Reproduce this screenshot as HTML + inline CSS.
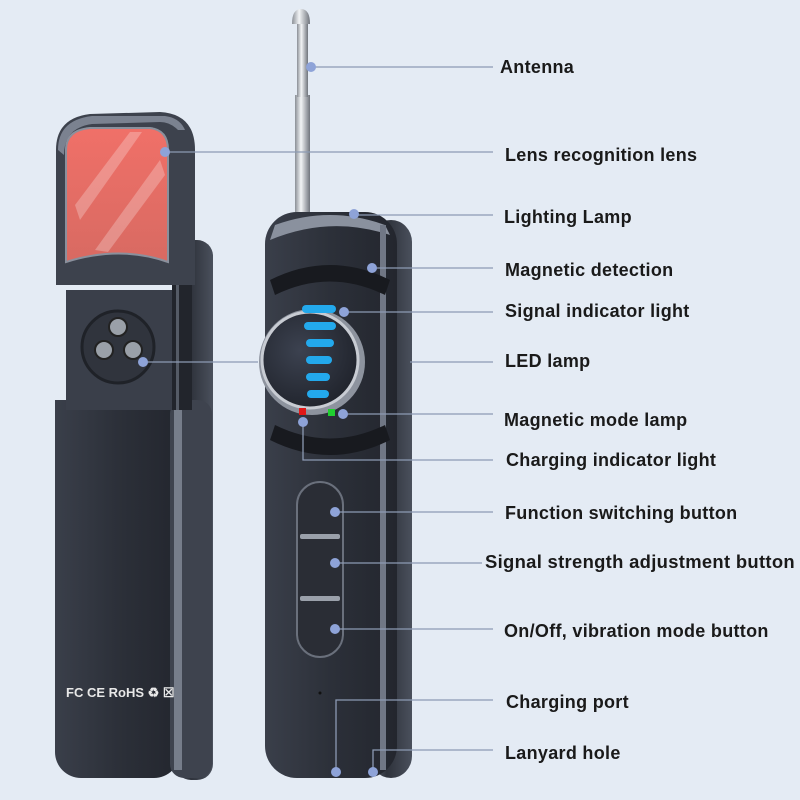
<!DOCTYPE html>
<html><head><meta charset="utf-8"><style>
html,body{margin:0;padding:0;background:#e4ebf4;}
svg{display:block}
text{font-family:"Liberation Sans",sans-serif;font-weight:bold;font-size:18px;letter-spacing:0.3px;fill:#1a1a1a}
</style></head><body>
<svg width="800" height="800" viewBox="0 0 800 800" xmlns="http://www.w3.org/2000/svg">
<defs>
<linearGradient id="body" x1="0" x2="1" y1="0" y2="0">
<stop offset="0" stop-color="#3a3f4a"/><stop offset="0.5" stop-color="#2c3039"/><stop offset="1" stop-color="#23262e"/></linearGradient>
<linearGradient id="side" x1="0" x2="1"><stop offset="0" stop-color="#5d6472"/><stop offset="0.4" stop-color="#2e323b"/><stop offset="1" stop-color="#4a505c"/></linearGradient>
<linearGradient id="ant" x1="0" x2="1"><stop offset="0" stop-color="#8a8f96"/><stop offset="0.4" stop-color="#f2f4f6"/><stop offset="1" stop-color="#70757d"/></linearGradient>
<linearGradient id="lens" x1="0" x2="0" y1="0" y2="1"><stop offset="0" stop-color="#f07068"/><stop offset="1" stop-color="#d86a62"/></linearGradient>
<radialGradient id="disc" cx="0.4" cy="0.4" r="0.7"><stop offset="0" stop-color="#3c4250"/><stop offset="1" stop-color="#1e2129"/></radialGradient>
</defs>
<rect width="800" height="800" fill="#e4ebf4"/>

<!-- Left device -->
<rect x="175" y="240" width="38" height="540" rx="16" fill="url(#side)"/>
<rect x="55" y="400" width="125" height="378" rx="26" fill="url(#body)"/>
<rect x="55" y="400" width="125" height="200" fill="url(#body)"/>
<rect x="170" y="400" width="42" height="378" rx="14" fill="#3e434e"/>
<rect x="174" y="400" width="8" height="370" fill="#767d8a"/>
<rect x="66" y="290" width="115" height="120" fill="#3a3f4a"/>
<rect x="172" y="285" width="20" height="125" fill="#22252c"/>
<rect x="176" y="285" width="3" height="125" fill="#555b66"/>
<path d="M56 150 Q56 118 90 114 L160 112 Q195 114 195 150 L195 285 L56 285 Z" fill="#3d424d"/>
<path d="M58 150 Q58 120 92 116 L165 116 Q180 118 185 130 L178 130 Q170 122 160 122 L92 124 Q64 128 64 155 Z" fill="#7b8290"/>
<path d="M66 150 Q66 130 90 128 L150 128 Q168 130 168 150 L168 262 Q120 245 66 262 Z" fill="url(#lens)" stroke="#8a909c" stroke-width="2"/>
<path d="M75 205 L130 132 L142 132 L80 220 Z M95 250 L160 160 L165 175 L108 252 Z" fill="#ffffff" opacity="0.25"/>
<circle cx="118" cy="347" r="36" fill="#30343d" stroke="#1f2228" stroke-width="3"/>
<circle cx="118" cy="327" r="9" fill="#9aa0a8" stroke="#222" stroke-width="2"/>
<circle cx="104" cy="350" r="9" fill="#9aa0a8" stroke="#222" stroke-width="2"/>
<circle cx="133" cy="350" r="9" fill="#9aa0a8" stroke="#222" stroke-width="2"/>
<text x="66" y="697" style="font-size:13px;fill:#e8e8e8;letter-spacing:0">FC CE RoHS ♻ ☒</text>

<!-- Antenna -->
<rect x="295" y="95" width="15" height="130" fill="url(#ant)"/>
<rect x="297" y="22" width="11" height="75" fill="url(#ant)"/>
<path d="M292 24 Q292 9 301 9 Q310 9 310 24 Z" fill="url(#ant)"/>

<!-- Right device -->
<rect x="370" y="220" width="42" height="558" rx="22" fill="url(#side)"/>
<rect x="265" y="212" width="132" height="566" rx="32" fill="url(#body)"/>
<path d="M275 225 Q330 205 385 225 L390 235 Q330 215 270 240 Z" fill="#8a919e"/>
<rect x="380" y="225" width="6" height="545" fill="#707785"/>
<path d="M270 280 Q330 250 390 280 L385 295 Q330 268 275 295 Z" fill="#181a1f"/>
<path d="M270 440 Q330 470 390 440 L385 425 Q330 452 275 425 Z" fill="#181a1f"/>
<circle cx="312" cy="362" r="53" fill="#8d939e"/>
<circle cx="310" cy="360" r="48" fill="url(#disc)" stroke="#c8ccd3" stroke-width="3"/>
<g fill="#23a9ec">
<rect x="302" y="305" width="34" height="8" rx="4"/>
<rect x="304" y="322" width="32" height="8" rx="4"/>
<rect x="306" y="339" width="28" height="8" rx="4"/>
<rect x="306" y="356" width="26" height="8" rx="4"/>
<rect x="306" y="373" width="24" height="8" rx="4"/>
<rect x="307" y="390" width="22" height="8" rx="4"/>
</g>
<rect x="299" y="408" width="7" height="7" fill="#e01818"/>
<rect x="328" y="409" width="7" height="7" fill="#20d030"/>
<rect x="297" y="482" width="46" height="175" rx="23" fill="#2a2d35" stroke="#6a707c" stroke-width="2"/>
<rect x="300" y="534" width="40" height="5" rx="2" fill="#9aa0aa"/>
<rect x="300" y="596" width="40" height="5" rx="2" fill="#9aa0aa"/>
<circle cx="320" cy="693" r="1.5" fill="#111"/>

<!-- connectors -->
<g stroke="#8c9ab3" stroke-width="1.3" fill="none">
<line x1="311" y1="67" x2="493" y2="67"/>
<line x1="165" y1="152" x2="493" y2="152"/>
<line x1="354" y1="215" x2="493" y2="215"/>
<line x1="372" y1="268" x2="493" y2="268"/>
<line x1="344" y1="312" x2="493" y2="312"/>
<line x1="143" y1="362" x2="258" y2="362"/>
<line x1="410" y1="362" x2="493" y2="362"/>
<line x1="343" y1="414" x2="493" y2="414"/>
<polyline points="303,422 303,460 493,460"/>
<line x1="335" y1="512" x2="493" y2="512"/>
<line x1="335" y1="563" x2="482" y2="563"/>
<line x1="335" y1="629" x2="493" y2="629"/>
<polyline points="336,772 336,700 493,700"/>
<polyline points="373,772 373,750 493,750"/>
</g>
<g fill="#8ea3d8">
<circle cx="311" cy="67" r="5"/><circle cx="165" cy="152" r="5"/><circle cx="354" cy="214" r="5"/>
<circle cx="372" cy="268" r="5"/><circle cx="344" cy="312" r="5"/><circle cx="143" cy="362" r="5"/>
<circle cx="343" cy="414" r="5"/><circle cx="303" cy="422" r="5"/><circle cx="335" cy="512" r="5"/>
<circle cx="335" cy="563" r="5"/><circle cx="335" cy="629" r="5"/><circle cx="336" cy="772" r="5"/>
<circle cx="373" cy="772" r="5"/>
</g>

<text x="500" y="73">Antenna</text>
<text x="505" y="161">Lens recognition lens</text>
<text x="504" y="223">Lighting Lamp</text>
<text x="505" y="276">Magnetic detection</text>
<text x="505" y="317">Signal indicator light</text>
<text x="505" y="367">LED lamp</text>
<text x="504" y="426">Magnetic mode lamp</text>
<text x="506" y="466">Charging indicator light</text>
<text x="505" y="519">Function switching button</text>
<text x="485" y="568" textLength="310" lengthAdjust="spacingAndGlyphs">Signal strength adjustment button</text>
<text x="504" y="637">On/Off, vibration mode button</text>
<text x="506" y="708">Charging port</text>
<text x="505" y="759">Lanyard hole</text>
</svg>
</body></html>
